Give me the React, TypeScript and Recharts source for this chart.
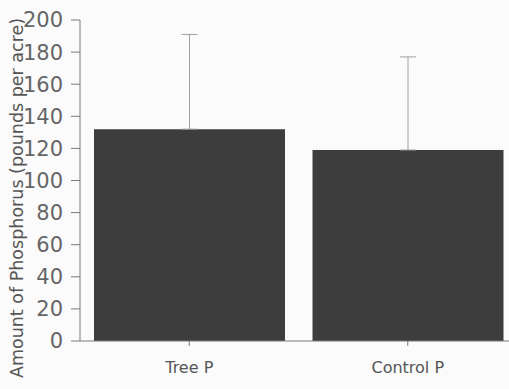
import React from "react";
import { BarChart, Bar, XAxis, YAxis, ErrorBar, Label } from "recharts";

const categories = ["Tree P", "Control P"];
const phosphorus = [132, 119];
const errorUp = [59, 58];
const yTicks = [0, 20, 40, 60, 80, 100, 120, 140, 160, 180, 200];

const data = categories.map((c, i) => ({
  name: c,
  value: phosphorus[i],
  err: [0, errorUp[i]],
}));

const font = "'DejaVu Sans', Verdana, sans-serif";

export default function App() {
  return (
    <div
      style={{
        position: "absolute",
        left: 0,
        top: 0,
        width: 509,
        height: 389,
        overflow: "hidden",
        background: "#fbfbfb",
      }}
    >
      <BarChart
        width={520}
        height={389}
        data={data}
        margin={{ top: 20, right: 3, bottom: 0, left: 0 }}
        barSize={191}
      >
        <XAxis
          dataKey="name"
          height={48}
          stroke="#7a7a7a"
          tickSize={5}
          tickMargin={16}
          tick={{ fill: "#555", fontSize: 16, fontFamily: font }}
        />
        <YAxis
          width={80}
          domain={[0, 200]}
          ticks={yTicks}
          interval={0}
          stroke="#7a7a7a"
          tickSize={9}
          tickMargin={8}
          tick={{ fill: "#666", fontSize: 21, fontFamily: font }}
        >
          <Label
            content={() => (
              <text
                x={17}
                y={198}
                transform="rotate(-90 17 198)"
                textAnchor="middle"
                dominantBaseline="central"
                fill="#555"
                fontSize={17.5}
                fontFamily={font}
              >
                Amount of Phosphorus (pounds per acre)
              </text>
            )}
          />
        </YAxis>
        <Bar dataKey="value" fill="#3d3d3d" isAnimationActive={false}>
          <ErrorBar dataKey="err" width={8} stroke="#a0a0a0" strokeWidth={1} />
        </Bar>
      </BarChart>
    </div>
  );
}
